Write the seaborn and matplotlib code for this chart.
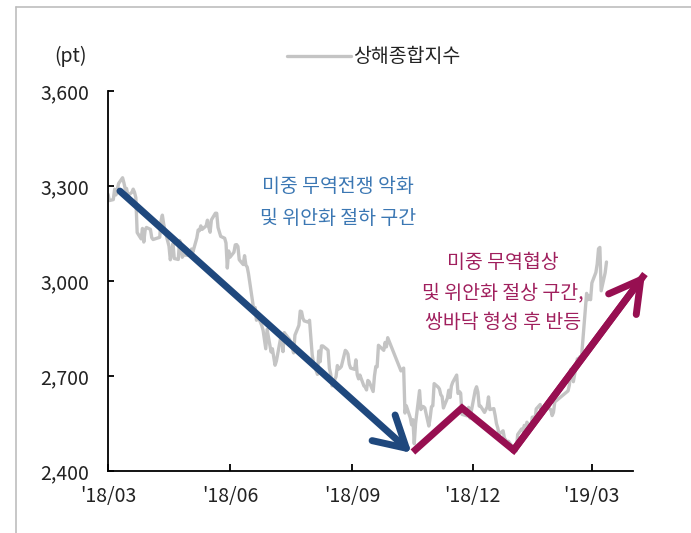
import matplotlib
matplotlib.use("Agg")
import matplotlib.pyplot as plt
import matplotlib.dates as mdates
from matplotlib.lines import Line2D
from matplotlib.ticker import FuncFormatter
import pandas as pd
import seaborn as sns

# Shanghai Composite closing levels (pt)
trade_dates = [
    "2018-03-01", "2018-03-02", "2018-03-05", "2018-03-06", "2018-03-07", "2018-03-08", "2018-03-09",
    "2018-03-12", "2018-03-13", "2018-03-14", "2018-03-15", "2018-03-16", "2018-03-19", "2018-03-20",
    "2018-03-21", "2018-03-22", "2018-03-23", "2018-03-26", "2018-03-27", "2018-03-28", "2018-03-29",
    "2018-03-30", "2018-04-02", "2018-04-03", "2018-04-04", "2018-04-09", "2018-04-10", "2018-04-11",
    "2018-04-12", "2018-04-13", "2018-04-16", "2018-04-17", "2018-04-18", "2018-04-19", "2018-04-20",
    "2018-04-23", "2018-04-24", "2018-04-25", "2018-04-26", "2018-04-27", "2018-05-02", "2018-05-03",
    "2018-05-04", "2018-05-07", "2018-05-08", "2018-05-09", "2018-05-10", "2018-05-11", "2018-05-14",
    "2018-05-15", "2018-05-16", "2018-05-17", "2018-05-18", "2018-05-21", "2018-05-22", "2018-05-23",
    "2018-05-24", "2018-05-25", "2018-05-28", "2018-05-29", "2018-05-30", "2018-05-31", "2018-06-01",
    "2018-06-04", "2018-06-05", "2018-06-06", "2018-06-07", "2018-06-08", "2018-06-11", "2018-06-12",
    "2018-06-13", "2018-06-14", "2018-06-15", "2018-06-19", "2018-06-20", "2018-06-21", "2018-06-22",
    "2018-06-25", "2018-06-26", "2018-06-27", "2018-06-28", "2018-06-29", "2018-07-02", "2018-07-03",
    "2018-07-04", "2018-07-05", "2018-07-06", "2018-07-09", "2018-07-10", "2018-07-11", "2018-07-12",
    "2018-07-13", "2018-07-16", "2018-07-17", "2018-07-18", "2018-07-19", "2018-07-20", "2018-07-23",
    "2018-07-24", "2018-07-25", "2018-07-26", "2018-07-27", "2018-07-30", "2018-07-31", "2018-08-01",
    "2018-08-02", "2018-08-03", "2018-08-06", "2018-08-07", "2018-08-08", "2018-08-09", "2018-08-10",
    "2018-08-13", "2018-08-14", "2018-08-15", "2018-08-16", "2018-08-17", "2018-08-20", "2018-08-21",
    "2018-08-22", "2018-08-23", "2018-08-24", "2018-08-27", "2018-08-28", "2018-08-29", "2018-08-30",
    "2018-08-31", "2018-09-03", "2018-09-04", "2018-09-05", "2018-09-06", "2018-09-07", "2018-09-10",
    "2018-09-11", "2018-09-12", "2018-09-13", "2018-09-14", "2018-09-17", "2018-09-18", "2018-09-19",
    "2018-09-20", "2018-09-21", "2018-09-25", "2018-09-26", "2018-09-27", "2018-09-28", "2018-10-08",
    "2018-10-09", "2018-10-10", "2018-10-11", "2018-10-12", "2018-10-15", "2018-10-16", "2018-10-17",
    "2018-10-18", "2018-10-19", "2018-10-22", "2018-10-23", "2018-10-24", "2018-10-25", "2018-10-26",
    "2018-10-29", "2018-10-30", "2018-10-31", "2018-11-01", "2018-11-02", "2018-11-05", "2018-11-06",
    "2018-11-07", "2018-11-08", "2018-11-09", "2018-11-12", "2018-11-13", "2018-11-14", "2018-11-15",
    "2018-11-16", "2018-11-19", "2018-11-20", "2018-11-21", "2018-11-22", "2018-11-23", "2018-11-26",
    "2018-11-27", "2018-11-28", "2018-11-29", "2018-11-30", "2018-12-03", "2018-12-04", "2018-12-05",
    "2018-12-06", "2018-12-07", "2018-12-10", "2018-12-11", "2018-12-12", "2018-12-13", "2018-12-14",
    "2018-12-17", "2018-12-18", "2018-12-19", "2018-12-20", "2018-12-21", "2018-12-24", "2018-12-25",
    "2018-12-26", "2018-12-27", "2018-12-28", "2019-01-02", "2019-01-03", "2019-01-04", "2019-01-07",
    "2019-01-08", "2019-01-09", "2019-01-10", "2019-01-11", "2019-01-14", "2019-01-15", "2019-01-16",
    "2019-01-17", "2019-01-18", "2019-01-21", "2019-01-22", "2019-01-23", "2019-01-24", "2019-01-25",
    "2019-01-28", "2019-01-29", "2019-01-30", "2019-01-31", "2019-02-01", "2019-02-11", "2019-02-12",
    "2019-02-13", "2019-02-14", "2019-02-15", "2019-02-18", "2019-02-19", "2019-02-20", "2019-02-21",
    "2019-02-22", "2019-02-25", "2019-02-26", "2019-02-27", "2019-02-28", "2019-03-01", "2019-03-04",
    "2019-03-05", "2019-03-06", "2019-03-07", "2019-03-08", "2019-03-11", "2019-03-12",
]
sse_close = [
    3274, 3254, 3257, 3290, 3272, 3288, 3308,
    3326, 3310, 3291, 3292, 3270, 3280, 3290,
    3280, 3263, 3153, 3133, 3166, 3123, 3161,
    3169, 3163, 3137, 3131, 3138, 3190, 3208,
    3180, 3159, 3110, 3067, 3091, 3118, 3071,
    3068, 3128, 3117, 3075, 3082, 3081, 3101,
    3091, 3136, 3161, 3159, 3174, 3163, 3174,
    3192, 3170, 3154, 3193, 3214, 3214, 3169,
    3155, 3141, 3135, 3120, 3041, 3095, 3075,
    3091, 3114, 3115, 3109, 3067, 3052, 3080,
    3050, 3044, 3022, 2908, 2916, 2876, 2890,
    2859, 2844, 2814, 2786, 2847, 2776, 2786,
    2760, 2734, 2747, 2815, 2827, 2777, 2837,
    2831, 2815, 2798, 2788, 2773, 2829, 2860,
    2905, 2903, 2882, 2874, 2870, 2876, 2824,
    2768, 2741, 2705, 2779, 2745, 2795, 2795,
    2785, 2781, 2724, 2706, 2669, 2698, 2733,
    2722, 2725, 2730, 2781, 2777, 2769, 2737,
    2725, 2721, 2751, 2704, 2691, 2703, 2669,
    2665, 2656, 2686, 2682, 2651, 2700, 2730,
    2729, 2797, 2781, 2806, 2792, 2821, 2716,
    2721, 2725, 2583, 2606, 2568, 2546, 2562,
    2486, 2550, 2654, 2594, 2604, 2603, 2599,
    2542, 2568, 2603, 2606, 2676, 2665, 2659,
    2641, 2635, 2599, 2630, 2655, 2632, 2668,
    2680, 2703, 2645, 2651, 2646, 2579, 2575,
    2574, 2601, 2567, 2588, 2655, 2666, 2649,
    2605, 2605, 2585, 2594, 2602, 2634, 2594,
    2597, 2576, 2550, 2536, 2516, 2527, 2504,
    2498, 2483, 2494, 2465, 2464, 2515, 2533,
    2526, 2544, 2535, 2554, 2535, 2570, 2570,
    2559, 2596, 2610, 2579, 2581, 2591, 2601,
    2597, 2594, 2575, 2585, 2618, 2653, 2671,
    2721, 2719, 2682, 2754, 2755, 2761, 2751,
    2804, 2961, 2941, 2954, 2941, 2994, 3027,
    3054, 3102, 3106, 2969, 3026, 3060,
]

# Trend guides drawn over the index
fall_dates = ["2018-03-10", "2018-10-16"]
fall_vals = [3284, 2457]
rebound_dates = ["2018-10-17", "2018-11-23", "2019-01-01", "2019-04-10"]
rebound_vals = [2460, 2599, 2466, 3022]

tick_dates = ["2018-03-01", "2018-06-01", "2018-09-01", "2018-12-01", "2019-03-01"]
tick_labels = ["'18/03", "'18/06", "'18/09", "'18/12", "'19/03"]
y_ticks = [2400, 2700, 3000, 3300, 3600]

series_name = "상해종합지수"
unit_label = "(pt)"
fall_text = ["미중 무역전쟁 악화", "및 위안화 절하 구간"]
rebound_text = ["미중 무역협상", "및 위안화 절상 구간,", "쌍바닥 형성 후 반등"]

GRAY = "#c4c4c4"
NAVY = "#1f487d"
BLUE_TXT = "#3b77b3"
WINE = "#970f51"
WINE_TXT = "#a01f5d"

sns.set_theme(style="white")
plt.rcParams["font.family"] = ["Noto Sans CJK KR", "DejaVu Sans"]

W, H = 691, 533
fig = plt.figure(figsize=(W / 100, H / 100), dpi=100)
ax = fig.add_axes([108 / W, 1 - 471 / H, (633 - 108) / W, (471 - 91) / H])

df = pd.DataFrame({"date": pd.to_datetime(trade_dates), "close": sse_close})
sns.lineplot(data=df, x="date", y="close", ax=ax, color=GRAY, linewidth=2.4,
             label=series_name, legend=False)

ax.set_xlim(pd.Timestamp("2018-03-01"), pd.Timestamp("2019-04-01"))
ax.set_ylim(2400, 3600)
ax.set_yticks(y_ticks)
ax.yaxis.set_major_formatter(FuncFormatter(lambda v, _: f"{v:,.0f}"))
ax.set_xticks(pd.to_datetime(tick_dates))
ax.set_xticklabels(tick_labels)
ax.set_xlabel("")
ax.set_ylabel("")

for side in ("top", "right"):
    ax.spines[side].set_visible(False)
for side in ("left", "bottom"):
    ax.spines[side].set_color("black")
    ax.spines[side].set_linewidth(1.3)

ax.tick_params(axis="y", direction="in", length=4, width=1.3, color="black",
               labelsize=14, labelcolor="#222222", pad=13.5, left=True)
ax.tick_params(axis="x", direction="in", length=5, width=1.3, color="black",
               labelsize=14, labelcolor="#222222", pad=11, bottom=True)

head = "->,head_length=1.1,head_width=0.62"

# Falling trend arrow
fx = mdates.date2num(pd.to_datetime(fall_dates))
ax.annotate("", xy=(fx[1], fall_vals[1]), xytext=(fx[0], fall_vals[0]),
            arrowprops=dict(arrowstyle=head, lw=5, color=NAVY, shrinkA=0, shrinkB=0,
                            mutation_scale=20, capstyle="round", joinstyle="round"),
            annotation_clip=False)

# Double-bottom and rebound path
rx = mdates.date2num(pd.to_datetime(rebound_dates))
ax.plot(rx, rebound_vals, color=WINE, lw=5, solid_joinstyle="miter",
        solid_capstyle="butt", clip_on=False)
ax.annotate("", xy=(rx[3], rebound_vals[3]), xytext=(rx[2], rebound_vals[2]),
            arrowprops=dict(arrowstyle=head, lw=5, color=WINE, shrinkA=0, shrinkB=0,
                            mutation_scale=20, capstyle="round", joinstyle="round"),
            annotation_clip=False)

ax.legend(loc="center", bbox_to_anchor=(374 / W, 1 - 57 / H),
          bbox_transform=fig.transFigure, frameon=False, fontsize=14,
          handlelength=3.3, handletextpad=0.1, labelcolor="#222222")

fig.text(71 / W, 1 - 56 / H, unit_label, ha="center", va="center",
         fontsize=14, color="#222222")

for i, line in enumerate(fall_text):
    fig.text(338 / W, 1 - (187 + 31 * i) / H, line, ha="center", va="center",
             fontsize=14, color=BLUE_TXT)
for i, line in enumerate(rebound_text):
    fig.text(503 / W, 1 - (263 + 30 * i) / H, line, ha="center", va="center",
             fontsize=14, color=WINE_TXT)

# Thin frame on the left and top edges
fig.add_artist(Line2D([16 / W, 16 / W], [0, 1 - 7 / H], transform=fig.transFigure,
                      color="#bdbdbd", lw=1.2))
fig.add_artist(Line2D([16 / W, 1], [1 - 7 / H, 1 - 7 / H], transform=fig.transFigure,
                      color="#bdbdbd", lw=1.2))

fig.savefig("out.png", dpi=100)
